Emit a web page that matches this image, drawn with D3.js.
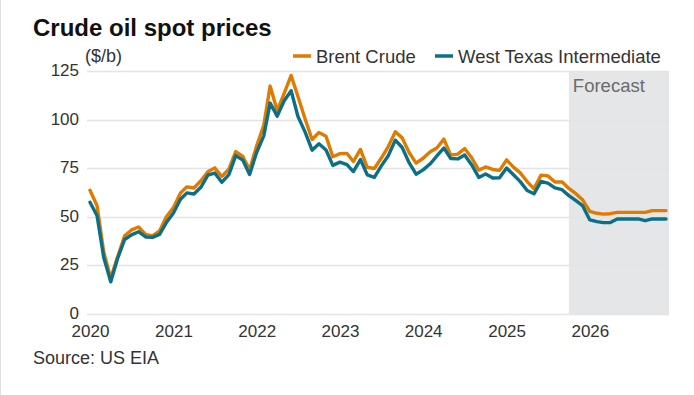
<!DOCTYPE html>
<html><head><meta charset="utf-8">
<script src="https://cdn.jsdelivr.net/npm/d3@7"></script>
<style>
html,body{margin:0;padding:0;background:#fff;}
svg{display:block;font-family:"Liberation Sans", Arial, sans-serif;}
</style></head>
<body>
<svg id="chart" width="694" height="395"></svg>
<script>
// ---- data ----
const startMonth = "2020-01";
const brent = [
  63.65,55.66,32.01,18.38,29.38,40.27,43.24,44.74,40.91,40.19,42.69,49.99,
  54.77,62.28,65.41,64.81,68.53,73.16,75.17,70.75,74.49,83.54,81.05,74.17,
  86.51,97.13,117.25,104.58,113.34,122.71,111.93,100.45,89.76,93.33,91.42,80.92,
  82.50,82.59,78.43,84.64,75.47,74.84,80.11,86.15,93.72,90.60,82.94,77.63,
  80.12,83.48,85.41,89.94,81.75,82.25,85.15,80.36,74.02,75.63,74.35,73.86,
  79.27,75.44,72.73,68.13,64.45,71.44,71.04,67.87,67.99,64.6,61.9,58.6,
  52.8,51.8,51.4,51.6,52.3,52.3,52.3,52.3,52.3,53.2,53.2,53.2
];
const wti = [
  57.52,50.54,29.21,16.55,28.56,38.31,40.71,42.34,39.63,39.40,40.94,47.02,
  52.00,59.04,62.33,61.72,65.17,71.38,72.49,67.73,71.65,81.48,79.15,71.71,
  83.22,91.64,108.50,101.78,109.55,114.84,101.62,93.67,84.26,87.55,84.37,76.44,
  78.12,76.83,73.28,79.45,71.58,70.25,76.07,81.39,89.43,85.64,77.69,71.90,
  74.15,77.25,81.28,85.35,80.02,79.77,81.80,76.68,70.24,71.99,69.95,70.12,
  75.10,71.53,68.24,63.54,61.82,68.17,67.33,64.86,63.96,60.9,58.3,55.6,
  48.4,47.5,47.0,47.1,48.9,48.9,48.9,48.9,48.0,48.9,48.9,48.9
];
const forecastStart = "2025-10";
const yTicks = [0,25,50,75,100,125];
const xTickYears = [2020,2021,2022,2023,2024,2025,2026];
const seriesNames = ["Brent Crude","West Texas Intermediate"];
const seriesColors = ["#e07b00","#0b6f87"];

// ---- build ----
const parse = d3.timeParse("%Y-%m");
const t0 = parse(startMonth);
const dates = brent.map((_,i)=>d3.timeMonth.offset(t0,i));
const series = [brent, wti].map((vals,k)=>({name:seriesNames[k],color:seriesColors[k],
  values: vals.map((v,i)=>({date:dates[i],value:v}))}));

const svg = d3.select("#chart");
const x = d3.scaleTime().domain([dates[0], dates[dates.length-1]]).range([90,666]);
const y = d3.scaleLinear().domain([0,125]).range([314,71]);
const plotL = 87, plotR = 669;
const txt = "#333";

// left border
svg.append("line").attr("x1",0.5).attr("x2",0.5).attr("y1",0).attr("y2",395)
  .attr("stroke","#e0e0e0");

// forecast shading
const fx = x(parse(forecastStart));
svg.append("rect").attr("x",fx).attr("y",y(125)).attr("width",plotR-fx)
  .attr("height",y(0)-y(125)).attr("fill","#e5e6e8");

// gridlines
svg.append("g").selectAll("line").data(yTicks).join("line")
  .attr("x1",plotL).attr("x2",plotR)
  .attr("y1",d=>Math.round(y(d))+0.5).attr("y2",d=>Math.round(y(d))+0.5)
  .attr("stroke","#e4e4e4").attr("stroke-width",1.5);

svg.append("text").attr("x",fx+4).attr("y",92).text("Forecast")
  .attr("font-size",18.5).attr("fill","#6b6b6b");

// y axis labels
const yAxis = d3.axisLeft(y).tickValues(yTicks).tickSize(0).tickPadding(0);
const gy = svg.append("g").attr("transform","translate(79,-1)").call(yAxis);
gy.select(".domain").remove();
gy.selectAll("text").attr("font-size",17).attr("fill",txt)
  .attr("font-family","'Liberation Sans', Arial, sans-serif");

// x axis labels
const xAxis = d3.axisBottom(x).tickValues(xTickYears.map(yr=>new Date(yr,0,1)))
  .tickFormat(d3.timeFormat("%Y")).tickSize(0).tickPadding(0);
const gx = svg.append("g").attr("transform","translate(0,325)").call(xAxis);
gx.select(".domain").remove();
gx.selectAll("text").attr("font-size",17).attr("fill",txt)
  .attr("font-family","'Liberation Sans', Arial, sans-serif");

// lines
const line = d3.line().x(d=>x(d.date)).y(d=>y(d.value)).curve(d3.curveLinear);
svg.append("g").selectAll("path").data(series).join("path")
  .attr("d",d=>line(d.values)).attr("fill","none")
  .attr("stroke",d=>d.color).attr("stroke-width",3.4)
  .attr("stroke-linejoin","round").attr("stroke-linecap","round");

// title etc
svg.append("text").attr("x",33).attr("y",36).text("Crude oil spot prices")
  .attr("font-size",24).attr("font-weight","bold").attr("fill","#111");
svg.append("text").attr("x",85).attr("y",62).text("($/b)")
  .attr("font-size",18).attr("fill",txt);
svg.append("text").attr("x",33).attr("y",364).text("Source: US EIA")
  .attr("font-size",18).attr("fill",txt);

// legend
const legX = [293, 435];
const lg = svg.append("g").selectAll("g").data(series).join("g")
  .attr("transform",(d,i)=>`translate(${legX[i]},56)`);
lg.append("line").attr("x1",0).attr("x2",18).attr("y1",0).attr("y2",0)
  .attr("stroke",d=>d.color).attr("stroke-width",3.5);
lg.append("text").attr("x",23).attr("y",6.5).text(d=>d.name)
  .attr("font-size",18.5).attr("fill",txt);
</script>
</body></html>
